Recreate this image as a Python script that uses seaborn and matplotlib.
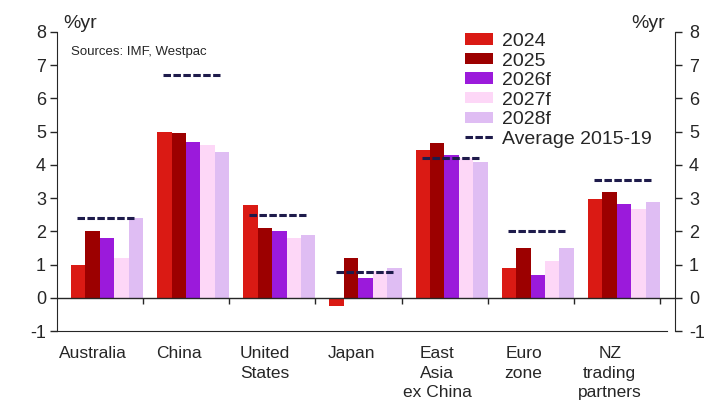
import numpy as np
import pandas as pd
import seaborn as sns
import matplotlib.pyplot as plt
from matplotlib.patches import Patch
from matplotlib.lines import Line2D

# growth forecasts, %yr
regions = ["Australia", "China", "United States", "Japan",
           "East Asia ex China", "Euro zone", "NZ trading partners"]
region_labels = ["Australia", "China", "United\nStates", "Japan",
                 "East\nAsia\nex China", "Euro\nzone", "NZ\ntrading\npartners"]
years = ["2024", "2025", "2026f", "2027f", "2028f"]
g2024 = [1.0, 5.0, 2.8, -0.25, 4.45, 0.9, 2.97]
g2025 = [2.0, 4.95, 2.1, 1.2, 4.65, 1.5, 3.18]
g2026 = [1.8, 4.7, 2.0, 0.6, 4.3, 0.7, 2.82]
g2027 = [1.2, 4.6, 1.8, 0.8, 4.2, 1.1, 2.66]
g2028 = [2.4, 4.4, 1.9, 0.9, 4.08, 1.5, 2.88]
avg_2015_19 = [2.4, 6.7, 2.48, 0.79, 4.21, 2.01, 3.55]
yticks = list(range(-1, 9))

colors = ["#da1a14", "#9c0000", "#9b1adb", "#fdd7f7", "#dfbdf3"]
avg_color = "#1e1b4b"
ink = "#262626"

sns.set_style("white")
plt.rcParams["font.family"] = ["Liberation Sans", "DejaVu Sans"]
plt.rcParams["text.color"] = ink
plt.rcParams["axes.unicode_minus"] = False

df = pd.DataFrame({"region": regions, "2024": g2024, "2025": g2025,
                   "2026f": g2026, "2027f": g2027, "2028f": g2028})
long_df = df.melt(id_vars="region", var_name="year", value_name="growth")

W, H = 718, 401
fig = plt.figure(figsize=(W / 100, H / 100), dpi=100)
ax = fig.add_axes([57 / W, 1 - 331 / H, (675 - 57) / W, (331 - 32) / H])

group_w = 0.837
sns.barplot(data=long_df, x="region", y="growth", hue="year", order=regions,
            hue_order=years, palette=colors, width=group_w, saturation=1,
            linewidth=0, ax=ax, legend=False)

x = np.arange(len(regions))
half = group_w / 2
bounds = x + half  # group boundaries sit at the right edge of each bar group

# average 2015-19 dashes
dash = (0, (2.45, 0.8))
ax.hlines(avg_2015_19, x - half + 0.07, x + half - 0.105, colors=avg_color,
          linewidth=2.2, linestyles=[dash])

# zero line with little ticks between groups
ax.axhline(0, color=ink, lw=1.0, zorder=1)
ax.plot(bounds, np.zeros_like(bounds, dtype=float), ls="none", marker=3,
        ms=4, mew=1.0, color=ink)

ax.set_xlim(-1 + half, len(regions) - 1 + half + 0.174)
ax.set_ylim(-1, 8)
ax.set_yticks(yticks)
ax.set_xticks(x - 0.165)
ax.set_xticklabels(region_labels, fontsize=12.5, color=ink)
for t in ax.get_xticklabels():
    t.set_linespacing(1.38)
ax.tick_params(axis="x", length=0, pad=11)
ax.tick_params(axis="y", direction="out", length=5, width=1, color=ink,
               labelsize=13, labelcolor=ink, pad=3)
ax.set_xlabel("")
ax.set_ylabel("")

ax.spines["top"].set_visible(False)
ax.spines["right"].set_visible(False)
ax.spines["left"].set_color(ink)
ax.spines["bottom"].set_color(ink)
ax.spines["bottom"].set_bounds(-1 + half, len(regions) - 1 + half + 0.08)

ax2 = ax.twinx()
ax2.set_ylim(-1, 8)
ax2.set_yticks(yticks)
ax2.tick_params(axis="y", direction="out", length=5, width=1, color=ink,
                labelsize=13, labelcolor=ink, pad=5)
for side in ["top", "left", "bottom"]:
    ax2.spines[side].set_visible(False)
ax2.spines["right"].set_color(ink)

fig.text(63 / W, 1 - 28 / H, "%yr", fontsize=14, ha="left", va="baseline")
fig.text(665 / W, 1 - 28 / H, "%yr", fontsize=14, ha="right", va="baseline")
fig.text(71 / W, 1 - 55 / H, "Sources: IMF, Westpac", fontsize=9.5,
         ha="left", va="baseline")

handles = [Patch(facecolor=c, linewidth=0) for c in colors]
handles.append(Line2D([], [], color=avg_color, lw=2.2, ls=(0, (2.45, 0.8))))
labels = years + ["Average 2015-19"]
ax2.legend(handles, labels, loc="upper left",
           bbox_to_anchor=(465 / W, 1 - 33 / H), bbox_transform=fig.transFigure,
           frameon=False, fontsize=14, handlelength=1.45, handleheight=0.52,
           handletextpad=0.45, labelspacing=0.13, borderpad=0, borderaxespad=0)

fig.savefig("out.png", dpi=100)
